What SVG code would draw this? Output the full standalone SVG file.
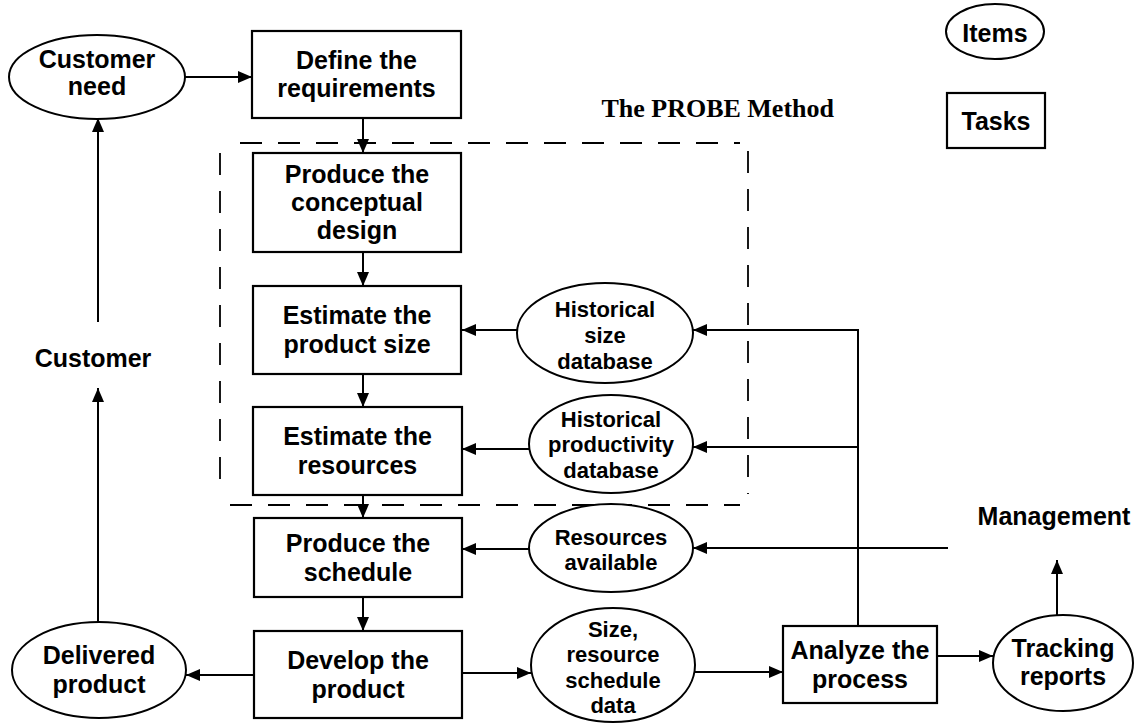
<svg xmlns="http://www.w3.org/2000/svg" width="1142" height="723" viewBox="0 0 1142 723">
<defs>
<marker id="ah" viewBox="0 0 14 12" refX="14" refY="6" markerWidth="14" markerHeight="12" markerUnits="userSpaceOnUse" orient="auto">
<path d="M0,0 L14,6 L0,12 z" fill="#000"/>
</marker>
<style>
.box{fill:#fff;stroke:#000;stroke-width:2.2}
.ell{fill:#fff;stroke:#000;stroke-width:2}
.t{font-family:"Liberation Sans",Arial,Helvetica,sans-serif;font-weight:bold;font-size:25px;text-anchor:middle;fill:#000}
.s{font-family:"Liberation Sans",Arial,Helvetica,sans-serif;font-weight:bold;font-size:22px;text-anchor:middle;fill:#000}
.c{fill:none;stroke:#000;stroke-width:2}
.a{marker-end:url(#ah)}
.d{fill:none;stroke:#000;stroke-width:1.8;stroke-dasharray:22 16}
</style>
</defs>
<rect width="1142" height="723" fill="#fff"/>

<g id="probe-boundary">
<line class="d" x1="240" y1="143" x2="740" y2="143"/>
<line class="d" x1="748" y1="151" x2="748" y2="494"/>
<line class="d" x1="230" y1="505" x2="740" y2="505"/>
<line class="d" x1="220" y1="153" x2="220" y2="492"/>
<text x="834" y="117" style="font-family:'Liberation Serif','Times New Roman',serif;font-weight:bold;font-size:26px;text-anchor:end">The PROBE Method</text>
</g>

<g id="connectors">
<line class="c a" x1="185" y1="77" x2="252" y2="77"/>
<line class="c a" x1="363" y1="118" x2="363" y2="153"/>
<line class="c a" x1="363" y1="252" x2="363" y2="286"/>
<line class="c a" x1="363" y1="374" x2="363" y2="407"/>
<line class="c a" x1="363" y1="495" x2="363" y2="518"/>
<line class="c a" x1="363" y1="597" x2="363" y2="631"/>
<line class="c a" x1="254" y1="675" x2="186" y2="675"/>
<line class="c a" x1="462" y1="673" x2="531" y2="673"/>
<line class="c a" x1="695" y1="672" x2="783" y2="672"/>
<line class="c a" x1="937" y1="656" x2="993" y2="656"/>
<line class="c a" x1="1057" y1="615" x2="1057" y2="560"/>
<line class="c a" x1="517" y1="330" x2="462" y2="330"/>
<line class="c a" x1="530" y1="449" x2="462" y2="449"/>
<line class="c a" x1="529" y1="549" x2="462" y2="549"/>
<polyline class="c a" points="858,626 858,330 693,330"/>
<line class="c a" x1="858" y1="447" x2="693" y2="447"/>
<line class="c a" x1="948" y1="548" x2="693" y2="548"/>
<line class="c a" x1="98" y1="622" x2="98" y2="388"/>
<line class="c a" x1="98" y1="322" x2="98" y2="118"/>
</g>

<g id="customer-need">
<ellipse class="ell" cx="97" cy="77" rx="88" ry="42"/>
<text class="t" x="97" y="68">Customer</text>
<text class="t" x="97" y="95">need</text>
</g>

<g id="define-requirements">
<rect class="box" x="252" y="31" width="209" height="87"/>
<text class="t" x="356.5" y="69">Define the</text>
<text class="t" x="356.5" y="97">requirements</text>
</g>

<g id="conceptual-design">
<rect class="box" x="253" y="153" width="208" height="99"/>
<text class="t" x="357" y="183">Produce the</text>
<text class="t" x="357" y="211">conceptual</text>
<text class="t" x="357" y="239">design</text>
</g>

<g id="estimate-size">
<rect class="box" x="253" y="286" width="208" height="88"/>
<text class="t" x="357" y="324">Estimate the</text>
<text class="t" x="357" y="353">product size</text>
</g>

<g id="estimate-resources">
<rect class="box" x="253" y="407" width="209" height="88"/>
<text class="t" x="357.5" y="445">Estimate the</text>
<text class="t" x="357.5" y="474">resources</text>
</g>

<g id="produce-schedule">
<rect class="box" x="254" y="518" width="208" height="79"/>
<text class="t" x="358" y="552">Produce the</text>
<text class="t" x="358" y="581">schedule</text>
</g>

<g id="develop-product">
<rect class="box" x="254" y="631" width="208" height="87"/>
<text class="t" x="358" y="669">Develop the</text>
<text class="t" x="358" y="698">product</text>
</g>

<g id="historical-size">
<ellipse class="ell" cx="605" cy="333" rx="88" ry="50"/>
<text class="s" x="605" y="317">Historical</text>
<text class="s" x="605" y="343">size</text>
<text class="s" x="605" y="369">database</text>
</g>

<g id="historical-productivity">
<ellipse class="ell" cx="611" cy="444" rx="82" ry="49"/>
<text class="s" x="611" y="427">Historical</text>
<text class="s" x="611" y="452">productivity</text>
<text class="s" x="611" y="478">database</text>
</g>

<g id="resources-available">
<ellipse class="ell" cx="611" cy="548" rx="82" ry="44"/>
<text class="s" x="611" y="545">Resources</text>
<text class="s" x="611" y="570">available</text>
</g>

<g id="size-data">
<ellipse class="ell" cx="613" cy="665" rx="82" ry="57"/>
<text class="s" x="613" y="637">Size,</text>
<text class="s" x="613" y="662">resource</text>
<text class="s" x="613" y="688">schedule</text>
<text class="s" x="613" y="713">data</text>
</g>

<g id="delivered-product">
<ellipse class="ell" cx="99" cy="670" rx="87" ry="48"/>
<text class="t" x="99" y="664">Delivered</text>
<text class="t" x="99" y="693">product</text>
</g>

<g id="analyze-process">
<rect class="box" x="783" y="626" width="154" height="77"/>
<text class="t" x="860" y="659">Analyze the</text>
<text class="t" x="860" y="688">process</text>
</g>

<g id="tracking-reports">
<ellipse class="ell" cx="1063" cy="663" rx="70" ry="48"/>
<text class="t" x="1063" y="657">Tracking</text>
<text class="t" x="1063" y="685">reports</text>
</g>

<g id="customer-label">
<text class="t" x="93" y="367">Customer</text>
</g>

<g id="management-label">
<text class="t" x="1054" y="525">Management</text>
</g>

<g id="legend-items">
<ellipse class="ell" cx="995" cy="31.5" rx="49" ry="27.5"/>
<text class="t" x="995" y="42">Items</text>
</g>

<g id="legend-tasks">
<rect class="box" x="947" y="93" width="98" height="55"/>
<text class="t" x="996" y="130">Tasks</text>
</g>
</svg>
